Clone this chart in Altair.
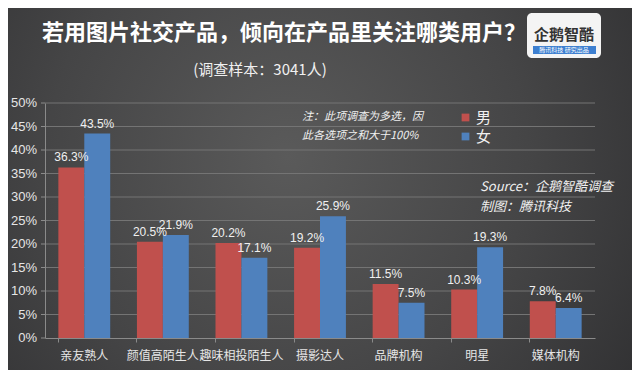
import altair as alt
import pandas as pd

categories = ["亲友熟人", "颜值高陌生人", "趣味相投陌生人", "摄影达人", "品牌机构", "明星", "媒体机构"]
male = [36.3, 20.5, 20.2, 19.2, 11.5, 10.3, 7.8]
female = [43.5, 21.9, 17.1, 25.9, 7.5, 19.3, 6.4]
series = ["男", "女"]
colors = ["#c0504d", "#4f81bd"]
y_ticks = [0, 5, 10, 15, 20, 25, 30, 35, 40, 45, 50]

rows = []
for c, m, f in zip(categories, male, female):
    rows.append({"cat": c, "sex": "男", "v": m})
    rows.append({"cat": c, "sex": "女", "v": f})
df = pd.DataFrame(rows)
tick_df = pd.DataFrame({"v": y_ticks})
grid_df = pd.DataFrame({"v": y_ticks[1:]})

W, H = 550, 235
FONT = "Noto Sans CJK SC"

bg = alt.Chart(pd.DataFrame({"a": [0]})).mark_rect(
    fill=alt.Gradient(
        gradient="radial",
        stops=[alt.GradientStop(color="#5a5a5a", offset=0),
               alt.GradientStop(color="#454546", offset=0.5),
               alt.GradientStop(color="#2a2a2c", offset=1)],
        x1=0.45, y1=0.45, x2=0.45, y2=0.45, r1=0, r2=0.75,
    )
).encode(x=alt.value(-45), x2=alt.value(W + 45), y=alt.value(-103), y2=alt.value(H + 40))

yscale = alt.Scale(domain=[0, 50], nice=False)
yaxis = alt.Axis(labels=False, ticks=False, grid=False, domainColor="#8a8a8a", zindex=1)
yenc = alt.Y("v:Q", title=None, scale=yscale, axis=yaxis)

grid = alt.Chart(grid_df).mark_rule(color="#747474", strokeWidth=1).encode(
    y=yenc, x=alt.value(0), x2=alt.value(W))

yticks = alt.Chart(tick_df).mark_rule(color="#8a8a8a", strokeWidth=1).encode(
    y=yenc, x=alt.value(-4), x2=alt.value(0))
ylabels = alt.Chart(tick_df).mark_text(align="right", baseline="middle", fontSize=13,
                                       font="Liberation Sans", color="#e6e6e6").encode(
    y=yenc, x=alt.value(-8), text="lab:N"
).transform_calculate(lab="datum.v + '%'")

xenc = alt.X("cat:N", sort=categories, title=None,
             scale=alt.Scale(paddingInner=0.34, paddingOuter=0.17),
             axis=alt.Axis(labelAngle=0, labelColor="#e6e6e6", labelFontSize=12, labelFont=FONT,
                           domainColor="#8a8a8a", tickColor="#8a8a8a", tickSize=4, bandPosition=0,
                           labelPadding=8, zindex=1))
xoff = alt.XOffset("sex:N", sort=series, scale=alt.Scale(paddingInner=0, paddingOuter=0))

bars = alt.Chart(df).mark_bar().encode(
    x=xenc, y=yenc, xOffset=xoff,
    color=alt.Color("sex:N", sort=series, scale=alt.Scale(domain=series, range=colors),
                    legend=alt.Legend(title=None, orient="none", legendX=413, legendY=7,
                                      symbolType="square", symbolSize=60, labelFontSize=15,
                                      labelColor="#f0f0f0", labelFont=FONT, rowPadding=3,
                                      symbolStrokeWidth=0, labelOffset=3, zindex=1)),
)

labels = alt.Chart(df).mark_text(dy=-10, fontSize=12, color="#f0f0f0", font="Liberation Sans").encode(
    x=xenc, xOffset=xoff, y=yenc,
    text=alt.Text("label:N"),
).transform_calculate(label="format(datum.v, '.1f') + '%'")

def txt(s, x, y, size, **kw):
    return alt.Chart(pd.DataFrame({"t": [s]})).mark_text(fontSize=size, font=FONT, **kw).encode(
        x=alt.value(x), y=alt.value(y), text="t:N")

title = txt("若用图片社交产品，倾向在产品里关注哪类用户？", 239, -70, 22, fontWeight="bold", color="#ffffff")
subtitle = txt("(调查样本：3041人)", 215, -33, 15, color="#f0f0f0")
note1 = txt("注：此项调查为多选，因", 257, 14, 11, fontStyle="italic", align="left", color="#f0f0f0")
note2 = txt("此各选项之和大于100%", 257, 33, 11, fontStyle="italic", align="left", color="#f0f0f0")
src1 = txt("Source：企鹅智酷调查", 435, 84, 13, fontStyle="italic", align="left", color="#f0f0f0")
src2 = txt("制图：腾讯科技", 435, 104, 13, fontStyle="italic", align="left", color="#f0f0f0")

logo_box = alt.Chart(pd.DataFrame({"a": [0]})).mark_rect(fill="#f4f4f4", cornerRadius=5).encode(
    x=alt.value(482), x2=alt.value(556), y=alt.value(-90), y2=alt.value(-45))
logo_bar = alt.Chart(pd.DataFrame({"a": [0]})).mark_rect(fill="#3d7fd0").encode(
    x=alt.value(488), x2=alt.value(551), y=alt.value(-57), y2=alt.value(-49))
logo_t = txt("企鹅智酷", 519, -68, 15, color="#333333", fontWeight="bold")
logo_s = txt("腾讯科技  研究出品", 519, -53, 6, color="#ffffff")

chart = alt.layer(bg, grid, bars, labels, yticks, ylabels, title, subtitle, note1, note2,
                  src1, src2, logo_box, logo_bar, logo_t, logo_s).properties(
    width=W, height=H,
    autosize=alt.AutoSizeParams(type="none"),
    padding={"left": 37, "top": 95, "right": 37, "bottom": 32},
    background="#333335",
).configure_view(stroke=None)

chart.save("out.html", embed_options={"renderer": "svg", "actions": False})
